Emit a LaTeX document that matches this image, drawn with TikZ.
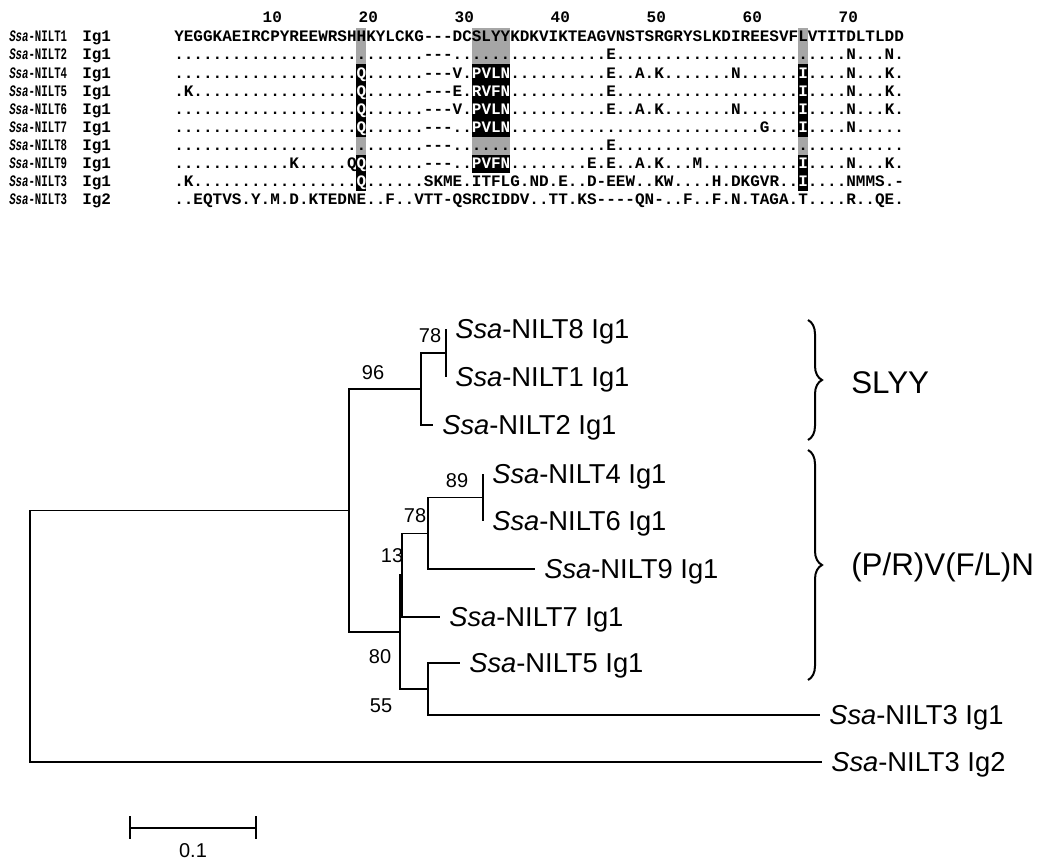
\documentclass[tikz,border=0pt]{standalone}
\usepackage{fontspec}
\setmainfont{Liberation Sans}
\setmonofont{Liberation Mono}
\usetikzlibrary{decorations.pathreplacing}
\ExplSyntaxOn
\NewDocumentCommand\Dt{m}{\prg_replicate:nn{#1}{.}}
\ExplSyntaxOff
\newcommand\Wt[1]{\textcolor{white}{#1}}
\newcommand\nmz[1]{\scalebox{0.67}[1]{#1}}
\definecolor{hlgray}{RGB}{166,166,166}
\newcommand\hlc[4]{\fill[#4] ({174+(#2-1)*9.6},{37+(#1-1)*18.1-9.05}) rectangle ({174+#3*9.6},{37+(#1-1)*18.1+9.05});}
\tikzset{
  seq/.style={anchor=base west, inner sep=0pt, font=\ttfamily\bfseries\fontsize{12}{12}\selectfont},
  leaf/.style={anchor=base west, inner sep=0pt, font=\fontsize{20.5}{22}\selectfont},
  boot/.style={inner sep=0pt, font=\fontsize{15}{16}\selectfont},
  clade/.style={anchor=west, inner sep=0pt, font=\fontsize{23.5}{25}\selectfont},
  br/.style={line width=1.1pt},
  brc/.style={line width=1.5pt, decorate, decoration={brace, amplitude=10.5pt}},
}
\begin{document}
\begin{tikzpicture}[x=0.75pt,y=-0.75pt]
\useasboundingbox (0,0) rectangle (1038,861);
% highlight columns
\foreach \r in {1,2,7}{\hlc{\r}{20}{20}{hlgray}\hlc{\r}{32}{35}{hlgray}\hlc{\r}{66}{66}{hlgray}}
\foreach \r in {3,4,5,6,8}{\hlc{\r}{20}{20}{black}\hlc{\r}{32}{35}{black}\hlc{\r}{66}{66}{black}}
\hlc{9}{20}{20}{black}\hlc{9}{66}{66}{black}
% ruler numbers
\foreach \p/\t in {10/10,20/20,30/30,40/40,50/50,60/60,70/70}
  \node[seq] (num\t) at ({174+(\p-1)*9.6+2},22) {\t};
% names
\foreach \i/\n/\g in {1/1/1,2/2/1,3/4/1,4/5/1,5/6/1,6/7/1,7/8/1,8/9/1,9/3/1,10/3/2}{
  \node[seq] (name\i) at (9,{37+(\i-1)*18.1+4.8}) {\nmz{\textit{Ssa}-NILT\n}};
  \node[seq] (ig\i) at (82,{37+(\i-1)*18.1+4.8}) {Ig\g};
}
% sequences
\node[seq] (s1) at (174,{37+0*18.1+4.8}) {YEGGKAEIRCPYREEWRSHHKYLCKG---DCSLYYKDKVIKTEAGVNSTSRGRYSLKDIREESVFLVTITDLTLDD};
\node[seq] (s2) at (174,{37+1*18.1+4.8}) {\Dt{26}---\Dt{16}E\Dt{24}N\Dt{3}N.};
\node[seq] (s3) at (174,{37+2*18.1+4.8}) {\Dt{19}\Wt{Q}\Dt{6}---V.\Wt{PVLN}\Dt{10}E..A.K\Dt{7}N\Dt{6}\Wt{I}\Dt{4}N\Dt{3}K.};
\node[seq] (s4) at (174,{37+3*18.1+4.8}) {.K\Dt{17}\Wt{Q}\Dt{6}---E.\Wt{RVFN}\Dt{10}E\Dt{19}\Wt{I}\Dt{4}N\Dt{3}K.};
\node[seq] (s5) at (174,{37+4*18.1+4.8}) {\Dt{19}\Wt{Q}\Dt{6}---V.\Wt{PVLN}\Dt{10}E..A.K\Dt{7}N\Dt{6}\Wt{I}\Dt{4}N\Dt{3}K.};
\node[seq] (s6) at (174,{37+5*18.1+4.8}) {\Dt{19}\Wt{Q}\Dt{6}---..\Wt{PVLN}\Dt{26}G\Dt{3}\Wt{I}\Dt{4}N\Dt{5}};
\node[seq] (s7) at (174,{37+6*18.1+4.8}) {\Dt{26}---\Dt{16}E\Dt{30}};
\node[seq] (s8) at (174,{37+7*18.1+4.8}) {\Dt{12}K\Dt{5}Q\Wt{Q}\Dt{6}---..\Wt{PVFN}\Dt{8}E.E..A.K\Dt{3}M\Dt{10}\Wt{I}\Dt{4}N\Dt{3}K.};
\node[seq] (s9) at (174,{37+8*18.1+4.8}) {.K\Dt{17}\Wt{Q}\Dt{6}SKME.ITFLG.ND.E..D-EEW..KW\Dt{4}H.DKGVR..\Wt{I}\Dt{4}NMMS.-};
\node[seq] (s10) at (174,{37+9*18.1+4.8}) {..EQTVS.Y.M.D.KTEDNE..F..VTT-QSRCIDDV..TT.KS----QN-..F..F.N.TAGA.T\Dt{4}R..QE.};
% tree coordinates
\coordinate (l8) at (446,329);
\coordinate (l1) at (446,377);
\coordinate (A) at (446,353);
\coordinate (l2) at (433,425);
\coordinate (B) at (421,389);
\coordinate (l4) at (483,474);
\coordinate (l6) at (483,521);
\coordinate (H) at (483,497.5);
\coordinate (l9) at (535,569);
\coordinate (G) at (428,533.25);
\coordinate (l7) at (440,617);
\coordinate (E) at (402,575);
\coordinate (l5) at (460,663);
\coordinate (l3a) at (820,715);
\coordinate (F) at (428,689);
\coordinate (D) at (400,632);
\coordinate (C) at (349,510.5);
\coordinate (lg2) at (822,762);
\coordinate (R) at (30,636);
\draw[br] (A) |- (l8) (A) |- (l1) (B) |- (A) (B) |- (l2)
  (H) |- (l4) (H) |- (l6) (G) |- (H) (G) |- (l9) (E) |- (G) (E) |- (l7)
  (F) |- (l5) (F) |- (l3a) (D) |- (E) (D) |- (F) (C) |- (B) (C) |- (D)
  (R) |- (C) (R) |- (lg2);
% leaf labels
\foreach \c/\t in {l8/{\textit{Ssa}-NILT8 Ig1},l1/{\textit{Ssa}-NILT1 Ig1},l2/{\textit{Ssa}-NILT2 Ig1},
  l4/{\textit{Ssa}-NILT4 Ig1},l6/{\textit{Ssa}-NILT6 Ig1},l9/{\textit{Ssa}-NILT9 Ig1},l7/{\textit{Ssa}-NILT7 Ig1},
  l5/{\textit{Ssa}-NILT5 Ig1},l3a/{\textit{Ssa}-NILT3 Ig1},lg2/{\textit{Ssa}-NILT3 Ig2}}
  \node[leaf] (t\c) at ([shift={(9,9.8)}]\c) {\t};
% bootstrap values
\node[boot] (bA) at (430,336) {78};
\node[boot] (bB) at (373,373) {96};
\node[boot] (bH) at (457,481) {89};
\node[boot] (bG) at (415,516) {78};
\node[boot] (bE) at (392,556) {13};
\node[boot] (bD) at (380,657) {80};
\node[boot] (bF) at (381,706) {55};
% braces
\coordinate (u1) at (808,320); \coordinate (u2) at (808,440);
\coordinate (w1) at (808,450); \coordinate (w2) at (808,680);
\draw[brc] (u1) -- (u2);
\draw[brc] (w1) -- (w2);
\node[clade] (slyy) at (851,383) {SLYY};
\node[clade] (pvfn) at (851,567) {(P/R)V(F/L)N};
% scale bar
\coordinate (sb1) at (130,828); \coordinate (sb2) at (256,828);
\draw[br] (sb1) -- (sb2);
\draw[br] ([yshift=-8]sb1) -- ([yshift=9]sb1);
\draw[br] ([yshift=-8]sb2) -- ([yshift=9]sb2);
\node[boot] (sbl) at (193,851) {0.1};
\end{tikzpicture}
\end{document}
